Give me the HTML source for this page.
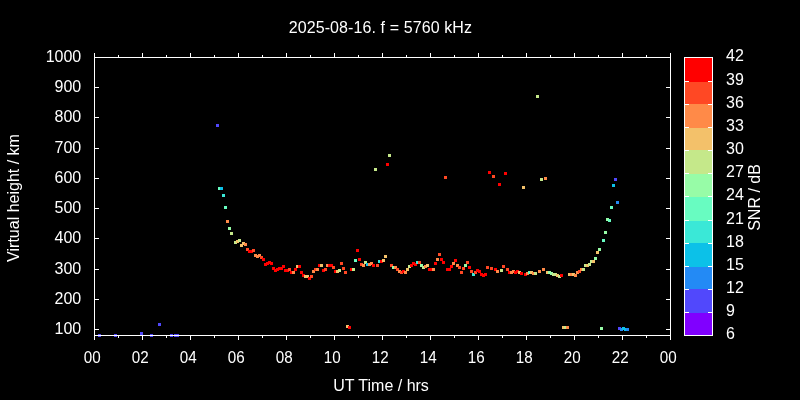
<!DOCTYPE html><html><head><meta charset="utf-8"><style>html,body{margin:0;padding:0;background:#000;width:800px;height:400px;overflow:hidden}svg{display:block;will-change:transform}text{font-family:"Liberation Sans",sans-serif;font-size:16px;fill:#fff}</style></head><body>
<svg width="800" height="400" viewBox="0 0 800 400">
<rect x="0" y="0" width="800" height="400" fill="#000"/>
<g shape-rendering="crispEdges">
<rect x="98" y="334" width="3" height="3" fill="#5148fc"/>
<rect x="114" y="334" width="3" height="3" fill="#5148fc"/>
<rect x="140" y="332" width="3" height="3" fill="#5148fc"/>
<rect x="150" y="334" width="3" height="3" fill="#5148fc"/>
<rect x="158" y="323" width="3" height="3" fill="#5148fc"/>
<rect x="170" y="334" width="3" height="3" fill="#5148fc"/>
<rect x="174" y="334" width="3" height="3" fill="#5148fc"/>
<rect x="176" y="334" width="3" height="3" fill="#5148fc"/>
<rect x="216" y="124" width="3" height="3" fill="#5148fc"/>
<rect x="218" y="187" width="3" height="3" fill="#68fcc1"/>
<rect x="220" y="187" width="3" height="3" fill="#0cc1e8"/>
<rect x="222" y="194" width="3" height="3" fill="#3ae8d7"/>
<rect x="224" y="206" width="3" height="3" fill="#68fcc1"/>
<rect x="226" y="220" width="3" height="3" fill="#ff8a48"/>
<rect x="228" y="227" width="3" height="3" fill="#97fca7"/>
<rect x="230" y="232" width="3" height="3" fill="#c5e88a"/>
<rect x="234" y="241" width="3" height="3" fill="#c5e88a"/>
<rect x="236" y="240" width="3" height="3" fill="#f3c16a"/>
<rect x="238" y="239" width="3" height="3" fill="#c5e88a"/>
<rect x="240" y="244" width="3" height="3" fill="#f3c16a"/>
<rect x="242" y="242" width="3" height="3" fill="#f3c16a"/>
<rect x="244" y="243" width="3" height="3" fill="#ff8a48"/>
<rect x="246" y="248" width="3" height="3" fill="#ff4824"/>
<rect x="248" y="250" width="3" height="3" fill="#ff0000"/>
<rect x="250" y="250" width="3" height="3" fill="#ff0000"/>
<rect x="252" y="249" width="3" height="3" fill="#ff4824"/>
<rect x="254" y="254" width="3" height="3" fill="#ff8a48"/>
<rect x="256" y="255" width="3" height="3" fill="#ff8a48"/>
<rect x="258" y="254" width="3" height="3" fill="#ff8a48"/>
<rect x="260" y="256" width="3" height="3" fill="#ff4824"/>
<rect x="262" y="258" width="3" height="3" fill="#ff0000"/>
<rect x="264" y="263" width="3" height="3" fill="#ff0000"/>
<rect x="266" y="262" width="3" height="3" fill="#ff0000"/>
<rect x="268" y="261" width="3" height="3" fill="#ff0000"/>
<rect x="270" y="262" width="3" height="3" fill="#ff0000"/>
<rect x="272" y="267" width="3" height="3" fill="#ff0000"/>
<rect x="274" y="269" width="3" height="3" fill="#ff0000"/>
<rect x="276" y="268" width="3" height="3" fill="#ff0000"/>
<rect x="278" y="267" width="3" height="3" fill="#ff0000"/>
<rect x="280" y="267" width="3" height="3" fill="#ff0000"/>
<rect x="282" y="265" width="3" height="3" fill="#ff0000"/>
<rect x="284" y="269" width="3" height="3" fill="#ff0000"/>
<rect x="286" y="269" width="3" height="3" fill="#ff0000"/>
<rect x="288" y="268" width="3" height="3" fill="#ff4824"/>
<rect x="290" y="271" width="3" height="3" fill="#ff0000"/>
<rect x="292" y="271" width="3" height="3" fill="#ff8a48"/>
<rect x="294" y="268" width="3" height="3" fill="#ff0000"/>
<rect x="296" y="265" width="3" height="3" fill="#f3c16a"/>
<rect x="298" y="265" width="3" height="3" fill="#ff0000"/>
<rect x="300" y="271" width="3" height="3" fill="#ff0000"/>
<rect x="302" y="274" width="3" height="3" fill="#ff0000"/>
<rect x="304" y="275" width="3" height="3" fill="#f3c16a"/>
<rect x="306" y="275" width="3" height="3" fill="#f3c16a"/>
<rect x="308" y="277" width="3" height="3" fill="#ff0000"/>
<rect x="310" y="275" width="3" height="3" fill="#ff4824"/>
<rect x="312" y="270" width="3" height="3" fill="#ff8a48"/>
<rect x="314" y="268" width="3" height="3" fill="#ff4824"/>
<rect x="316" y="268" width="3" height="3" fill="#ff8a48"/>
<rect x="318" y="264" width="3" height="3" fill="#ff0000"/>
<rect x="320" y="264" width="3" height="3" fill="#f3c16a"/>
<rect x="322" y="269" width="3" height="3" fill="#ff0000"/>
<rect x="324" y="268" width="3" height="3" fill="#ff4824"/>
<rect x="326" y="264" width="3" height="3" fill="#ff8a48"/>
<rect x="328" y="264" width="3" height="3" fill="#ff0000"/>
<rect x="330" y="264" width="3" height="3" fill="#ff0000"/>
<rect x="332" y="266" width="3" height="3" fill="#ff4824"/>
<rect x="334" y="270" width="3" height="3" fill="#ff0000"/>
<rect x="336" y="270" width="3" height="3" fill="#f3c16a"/>
<rect x="338" y="269" width="3" height="3" fill="#c5e88a"/>
<rect x="340" y="262" width="3" height="3" fill="#ff4824"/>
<rect x="342" y="267" width="3" height="3" fill="#ff4824"/>
<rect x="344" y="271" width="3" height="3" fill="#ff4824"/>
<rect x="346" y="325" width="3" height="3" fill="#f3c16a"/>
<rect x="348" y="326" width="3" height="3" fill="#ff0000"/>
<rect x="350" y="268" width="3" height="3" fill="#ff0000"/>
<rect x="352" y="268" width="3" height="3" fill="#c5e88a"/>
<rect x="354" y="259" width="3" height="3" fill="#68fcc1"/>
<rect x="356" y="249" width="3" height="3" fill="#ff0000"/>
<rect x="358" y="258" width="3" height="3" fill="#ff0000"/>
<rect x="360" y="263" width="3" height="3" fill="#ff4824"/>
<rect x="362" y="264" width="3" height="3" fill="#ff8a48"/>
<rect x="364" y="261" width="3" height="3" fill="#c5e88a"/>
<rect x="366" y="263" width="3" height="3" fill="#0cc1e8"/>
<rect x="368" y="263" width="3" height="3" fill="#ff8a48"/>
<rect x="370" y="262" width="3" height="3" fill="#ff8a48"/>
<rect x="372" y="264" width="3" height="3" fill="#ff0000"/>
<rect x="374" y="168" width="3" height="3" fill="#c5e88a"/>
<rect x="376" y="264" width="3" height="3" fill="#ff4824"/>
<rect x="378" y="260" width="3" height="3" fill="#3ae8d7"/>
<rect x="380" y="260" width="3" height="3" fill="#ff0000"/>
<rect x="382" y="259" width="3" height="3" fill="#f3c16a"/>
<rect x="384" y="255" width="3" height="3" fill="#f3c16a"/>
<rect x="386" y="163" width="3" height="3" fill="#ff0000"/>
<rect x="388" y="154" width="3" height="3" fill="#c5e88a"/>
<rect x="390" y="264" width="3" height="3" fill="#ff4824"/>
<rect x="392" y="266" width="3" height="3" fill="#97fca7"/>
<rect x="394" y="266" width="3" height="3" fill="#ff8a48"/>
<rect x="396" y="268" width="3" height="3" fill="#ff4824"/>
<rect x="398" y="270" width="3" height="3" fill="#ff8a48"/>
<rect x="400" y="271" width="3" height="3" fill="#ff4824"/>
<rect x="402" y="270" width="3" height="3" fill="#ff0000"/>
<rect x="404" y="271" width="3" height="3" fill="#ff8a48"/>
<rect x="406" y="268" width="3" height="3" fill="#f3c16a"/>
<rect x="408" y="265" width="3" height="3" fill="#c5e88a"/>
<rect x="410" y="264" width="3" height="3" fill="#ff0000"/>
<rect x="412" y="262" width="3" height="3" fill="#ff0000"/>
<rect x="414" y="263" width="3" height="3" fill="#ff0000"/>
<rect x="416" y="261" width="3" height="3" fill="#3ae8d7"/>
<rect x="418" y="261" width="3" height="3" fill="#ff4824"/>
<rect x="420" y="264" width="3" height="3" fill="#97fca7"/>
<rect x="422" y="266" width="3" height="3" fill="#c5e88a"/>
<rect x="424" y="265" width="3" height="3" fill="#ff8a48"/>
<rect x="426" y="264" width="3" height="3" fill="#f3c16a"/>
<rect x="428" y="268" width="3" height="3" fill="#ff0000"/>
<rect x="430" y="268" width="3" height="3" fill="#ff0000"/>
<rect x="432" y="268" width="3" height="3" fill="#ff8a48"/>
<rect x="434" y="262" width="3" height="3" fill="#ff0000"/>
<rect x="436" y="258" width="3" height="3" fill="#ff8a48"/>
<rect x="438" y="253" width="3" height="3" fill="#ff4824"/>
<rect x="440" y="258" width="3" height="3" fill="#ff0000"/>
<rect x="442" y="261" width="3" height="3" fill="#ff0000"/>
<rect x="444" y="176" width="3" height="3" fill="#ff4824"/>
<rect x="446" y="268" width="3" height="3" fill="#ff0000"/>
<rect x="448" y="268" width="3" height="3" fill="#ff0000"/>
<rect x="450" y="265" width="3" height="3" fill="#ff0000"/>
<rect x="452" y="262" width="3" height="3" fill="#ff8a48"/>
<rect x="454" y="259" width="3" height="3" fill="#ff0000"/>
<rect x="456" y="264" width="3" height="3" fill="#ff8a48"/>
<rect x="458" y="266" width="3" height="3" fill="#ff4824"/>
<rect x="460" y="271" width="3" height="3" fill="#ff4824"/>
<rect x="462" y="267" width="3" height="3" fill="#ff4824"/>
<rect x="464" y="264" width="3" height="3" fill="#97fca7"/>
<rect x="466" y="261" width="3" height="3" fill="#ff4824"/>
<rect x="468" y="266" width="3" height="3" fill="#ff0000"/>
<rect x="470" y="270" width="3" height="3" fill="#ff4824"/>
<rect x="472" y="273" width="3" height="3" fill="#3ae8d7"/>
<rect x="474" y="271" width="3" height="3" fill="#ff4824"/>
<rect x="476" y="269" width="3" height="3" fill="#ff0000"/>
<rect x="478" y="270" width="3" height="3" fill="#ff0000"/>
<rect x="480" y="273" width="3" height="3" fill="#ff0000"/>
<rect x="482" y="274" width="3" height="3" fill="#ff0000"/>
<rect x="484" y="273" width="3" height="3" fill="#ff0000"/>
<rect x="486" y="266" width="3" height="3" fill="#ff4824"/>
<rect x="488" y="171" width="3" height="3" fill="#ff0000"/>
<rect x="490" y="267" width="3" height="3" fill="#ff4824"/>
<rect x="492" y="175" width="3" height="3" fill="#ff4824"/>
<rect x="494" y="268" width="3" height="3" fill="#ff0000"/>
<rect x="496" y="270" width="3" height="3" fill="#ff8a48"/>
<rect x="498" y="183" width="3" height="3" fill="#ff0000"/>
<rect x="500" y="269" width="3" height="3" fill="#c5e88a"/>
<rect x="502" y="265" width="3" height="3" fill="#ff4824"/>
<rect x="504" y="172" width="3" height="3" fill="#ff0000"/>
<rect x="506" y="268" width="3" height="3" fill="#ff4824"/>
<rect x="508" y="271" width="3" height="3" fill="#ff0000"/>
<rect x="510" y="271" width="3" height="3" fill="#ff8a48"/>
<rect x="512" y="270" width="3" height="3" fill="#ff8a48"/>
<rect x="514" y="271" width="3" height="3" fill="#ff0000"/>
<rect x="516" y="270" width="3" height="3" fill="#ff0000"/>
<rect x="518" y="271" width="3" height="3" fill="#f3c16a"/>
<rect x="520" y="272" width="3" height="3" fill="#ff0000"/>
<rect x="522" y="186" width="3" height="3" fill="#f3c16a"/>
<rect x="524" y="273" width="3" height="3" fill="#ff0000"/>
<rect x="526" y="272" width="3" height="3" fill="#ff8a48"/>
<rect x="528" y="271" width="3" height="3" fill="#68fcc1"/>
<rect x="530" y="271" width="3" height="3" fill="#f3c16a"/>
<rect x="532" y="272" width="3" height="3" fill="#ff8a48"/>
<rect x="534" y="272" width="3" height="3" fill="#c5e88a"/>
<rect x="536" y="95" width="3" height="3" fill="#c5e88a"/>
<rect x="538" y="270" width="3" height="3" fill="#ff8a48"/>
<rect x="540" y="178" width="3" height="3" fill="#c5e88a"/>
<rect x="542" y="268" width="3" height="3" fill="#ff8a48"/>
<rect x="544" y="177" width="3" height="3" fill="#ff8a48"/>
<rect x="546" y="271" width="3" height="3" fill="#f3c16a"/>
<rect x="548" y="271" width="3" height="3" fill="#97fca7"/>
<rect x="550" y="272" width="3" height="3" fill="#97fca7"/>
<rect x="552" y="273" width="3" height="3" fill="#c5e88a"/>
<rect x="554" y="273" width="3" height="3" fill="#c5e88a"/>
<rect x="556" y="274" width="3" height="3" fill="#f3c16a"/>
<rect x="558" y="275" width="3" height="3" fill="#c5e88a"/>
<rect x="560" y="274" width="3" height="3" fill="#ff0000"/>
<rect x="562" y="326" width="3" height="3" fill="#f3c16a"/>
<rect x="564" y="326" width="3" height="3" fill="#c5e88a"/>
<rect x="566" y="326" width="3" height="3" fill="#ff8a48"/>
<rect x="568" y="273" width="3" height="3" fill="#f3c16a"/>
<rect x="570" y="273" width="3" height="3" fill="#ff8a48"/>
<rect x="572" y="273" width="3" height="3" fill="#f3c16a"/>
<rect x="574" y="274" width="3" height="3" fill="#ff8a48"/>
<rect x="576" y="271" width="3" height="3" fill="#ff8a48"/>
<rect x="578" y="270" width="3" height="3" fill="#ff4824"/>
<rect x="580" y="268" width="3" height="3" fill="#ff8a48"/>
<rect x="582" y="268" width="3" height="3" fill="#c5e88a"/>
<rect x="584" y="264" width="3" height="3" fill="#c5e88a"/>
<rect x="586" y="264" width="3" height="3" fill="#f3c16a"/>
<rect x="588" y="263" width="3" height="3" fill="#c5e88a"/>
<rect x="590" y="260" width="3" height="3" fill="#c5e88a"/>
<rect x="592" y="260" width="3" height="3" fill="#f3c16a"/>
<rect x="594" y="257" width="3" height="3" fill="#97fca7"/>
<rect x="596" y="251" width="3" height="3" fill="#f3c16a"/>
<rect x="598" y="248" width="3" height="3" fill="#97fca7"/>
<rect x="600" y="327" width="3" height="3" fill="#97fca7"/>
<rect x="602" y="239" width="3" height="3" fill="#68fcc1"/>
<rect x="604" y="231" width="3" height="3" fill="#97fca7"/>
<rect x="606" y="218" width="3" height="3" fill="#97fca7"/>
<rect x="608" y="219" width="3" height="3" fill="#68fcc1"/>
<rect x="610" y="206" width="3" height="3" fill="#68fcc1"/>
<rect x="612" y="184" width="3" height="3" fill="#0cc1e8"/>
<rect x="614" y="178" width="3" height="3" fill="#5148fc"/>
<rect x="616" y="201" width="3" height="3" fill="#238af5"/>
<rect x="618" y="327" width="3" height="3" fill="#5148fc"/>
<rect x="620" y="328" width="3" height="3" fill="#238af5"/>
<rect x="622" y="327" width="3" height="3" fill="#0cc1e8"/>
<rect x="624" y="328" width="3" height="3" fill="#0cc1e8"/>
<rect x="626" y="328" width="3" height="3" fill="#238af5"/>
<rect x="684" y="313" width="28" height="22" fill="#8000ff"/>
<rect x="684" y="289" width="28" height="24" fill="#5148fc"/>
<rect x="684" y="267" width="28" height="22" fill="#238af5"/>
<rect x="684" y="243" width="28" height="24" fill="#0cc1e8"/>
<rect x="684" y="221" width="28" height="22" fill="#3ae8d7"/>
<rect x="684" y="197" width="28" height="24" fill="#68fcc1"/>
<rect x="684" y="174" width="28" height="23" fill="#97fca7"/>
<rect x="684" y="150" width="28" height="24" fill="#c5e88a"/>
<rect x="684" y="128" width="28" height="22" fill="#f3c16a"/>
<rect x="684" y="104" width="28" height="24" fill="#ff8a48"/>
<rect x="684" y="82" width="28" height="22" fill="#ff4824"/>
<rect x="684" y="57" width="28" height="25" fill="#ff0000"/>
<rect x="94" y="57" width="577" height="1" fill="#fff"/>
<rect x="94" y="335" width="577" height="1" fill="#fff"/>
<rect x="94" y="57" width="1" height="279" fill="#fff"/>
<rect x="670" y="57" width="1" height="279" fill="#fff"/>
<rect x="94" y="335" width="1" height="5" fill="#fff"/>
<rect x="94" y="53" width="1" height="5" fill="#fff"/>
<rect x="118" y="335" width="1" height="3" fill="#fff"/>
<rect x="118" y="55" width="1" height="3" fill="#fff"/>
<rect x="142" y="335" width="1" height="5" fill="#fff"/>
<rect x="142" y="53" width="1" height="5" fill="#fff"/>
<rect x="166" y="335" width="1" height="3" fill="#fff"/>
<rect x="166" y="55" width="1" height="3" fill="#fff"/>
<rect x="190" y="335" width="1" height="5" fill="#fff"/>
<rect x="190" y="53" width="1" height="5" fill="#fff"/>
<rect x="214" y="335" width="1" height="3" fill="#fff"/>
<rect x="214" y="55" width="1" height="3" fill="#fff"/>
<rect x="238" y="335" width="1" height="5" fill="#fff"/>
<rect x="238" y="53" width="1" height="5" fill="#fff"/>
<rect x="262" y="335" width="1" height="3" fill="#fff"/>
<rect x="262" y="55" width="1" height="3" fill="#fff"/>
<rect x="286" y="335" width="1" height="5" fill="#fff"/>
<rect x="286" y="53" width="1" height="5" fill="#fff"/>
<rect x="310" y="335" width="1" height="3" fill="#fff"/>
<rect x="310" y="55" width="1" height="3" fill="#fff"/>
<rect x="334" y="335" width="1" height="5" fill="#fff"/>
<rect x="334" y="53" width="1" height="5" fill="#fff"/>
<rect x="358" y="335" width="1" height="3" fill="#fff"/>
<rect x="358" y="55" width="1" height="3" fill="#fff"/>
<rect x="382" y="335" width="1" height="5" fill="#fff"/>
<rect x="382" y="53" width="1" height="5" fill="#fff"/>
<rect x="406" y="335" width="1" height="3" fill="#fff"/>
<rect x="406" y="55" width="1" height="3" fill="#fff"/>
<rect x="430" y="335" width="1" height="5" fill="#fff"/>
<rect x="430" y="53" width="1" height="5" fill="#fff"/>
<rect x="454" y="335" width="1" height="3" fill="#fff"/>
<rect x="454" y="55" width="1" height="3" fill="#fff"/>
<rect x="478" y="335" width="1" height="5" fill="#fff"/>
<rect x="478" y="53" width="1" height="5" fill="#fff"/>
<rect x="502" y="335" width="1" height="3" fill="#fff"/>
<rect x="502" y="55" width="1" height="3" fill="#fff"/>
<rect x="526" y="335" width="1" height="5" fill="#fff"/>
<rect x="526" y="53" width="1" height="5" fill="#fff"/>
<rect x="550" y="335" width="1" height="3" fill="#fff"/>
<rect x="550" y="55" width="1" height="3" fill="#fff"/>
<rect x="574" y="335" width="1" height="5" fill="#fff"/>
<rect x="574" y="53" width="1" height="5" fill="#fff"/>
<rect x="598" y="335" width="1" height="3" fill="#fff"/>
<rect x="598" y="55" width="1" height="3" fill="#fff"/>
<rect x="622" y="335" width="1" height="5" fill="#fff"/>
<rect x="622" y="53" width="1" height="5" fill="#fff"/>
<rect x="646" y="335" width="1" height="3" fill="#fff"/>
<rect x="646" y="55" width="1" height="3" fill="#fff"/>
<rect x="670" y="335" width="1" height="5" fill="#fff"/>
<rect x="670" y="53" width="1" height="5" fill="#fff"/>
<rect x="94" y="329" width="5" height="1" fill="#fff"/>
<rect x="666" y="329" width="5" height="1" fill="#fff"/>
<rect x="94" y="299" width="5" height="1" fill="#fff"/>
<rect x="666" y="299" width="5" height="1" fill="#fff"/>
<rect x="94" y="269" width="5" height="1" fill="#fff"/>
<rect x="666" y="269" width="5" height="1" fill="#fff"/>
<rect x="94" y="238" width="5" height="1" fill="#fff"/>
<rect x="666" y="238" width="5" height="1" fill="#fff"/>
<rect x="94" y="208" width="5" height="1" fill="#fff"/>
<rect x="666" y="208" width="5" height="1" fill="#fff"/>
<rect x="94" y="178" width="5" height="1" fill="#fff"/>
<rect x="666" y="178" width="5" height="1" fill="#fff"/>
<rect x="94" y="148" width="5" height="1" fill="#fff"/>
<rect x="666" y="148" width="5" height="1" fill="#fff"/>
<rect x="94" y="117" width="5" height="1" fill="#fff"/>
<rect x="666" y="117" width="5" height="1" fill="#fff"/>
<rect x="94" y="87" width="5" height="1" fill="#fff"/>
<rect x="666" y="87" width="5" height="1" fill="#fff"/>
<rect x="94" y="57" width="5" height="1" fill="#fff"/>
<rect x="666" y="57" width="5" height="1" fill="#fff"/>
<rect x="684" y="57" width="5" height="1" fill="#fff"/>
<rect x="708" y="57" width="5" height="1" fill="#fff"/>
<rect x="684" y="81" width="5" height="1" fill="#fff"/>
<rect x="708" y="81" width="5" height="1" fill="#fff"/>
<rect x="684" y="104" width="5" height="1" fill="#fff"/>
<rect x="708" y="104" width="5" height="1" fill="#fff"/>
<rect x="684" y="127" width="5" height="1" fill="#fff"/>
<rect x="708" y="127" width="5" height="1" fill="#fff"/>
<rect x="684" y="150" width="5" height="1" fill="#fff"/>
<rect x="708" y="150" width="5" height="1" fill="#fff"/>
<rect x="684" y="173" width="5" height="1" fill="#fff"/>
<rect x="708" y="173" width="5" height="1" fill="#fff"/>
<rect x="684" y="196" width="5" height="1" fill="#fff"/>
<rect x="708" y="196" width="5" height="1" fill="#fff"/>
<rect x="684" y="220" width="5" height="1" fill="#fff"/>
<rect x="708" y="220" width="5" height="1" fill="#fff"/>
<rect x="684" y="243" width="5" height="1" fill="#fff"/>
<rect x="708" y="243" width="5" height="1" fill="#fff"/>
<rect x="684" y="266" width="5" height="1" fill="#fff"/>
<rect x="708" y="266" width="5" height="1" fill="#fff"/>
<rect x="684" y="289" width="5" height="1" fill="#fff"/>
<rect x="708" y="289" width="5" height="1" fill="#fff"/>
<rect x="684" y="312" width="5" height="1" fill="#fff"/>
<rect x="708" y="312" width="5" height="1" fill="#fff"/>
<rect x="684" y="335" width="5" height="1" fill="#fff"/>
<rect x="708" y="335" width="5" height="1" fill="#fff"/>
<rect x="684" y="57" width="29" height="1" fill="#fff"/>
<rect x="684" y="335" width="29" height="1" fill="#fff"/>
<rect x="684" y="57" width="1" height="279" fill="#fff"/>
<rect x="712" y="57" width="1" height="279" fill="#fff"/>
</g>
<text x="81.25" y="334" text-anchor="end">100</text>
<text x="81.25" y="304" text-anchor="end">200</text>
<text x="81.25" y="274" text-anchor="end">300</text>
<text x="81.25" y="243" text-anchor="end">400</text>
<text x="81.25" y="213" text-anchor="end">500</text>
<text x="81.25" y="183" text-anchor="end">600</text>
<text x="81.25" y="153" text-anchor="end">700</text>
<text x="81.25" y="122" text-anchor="end">800</text>
<text x="81.25" y="92" text-anchor="end">900</text>
<text x="81.25" y="62" text-anchor="end">1000</text>
<text x="92.25" y="363" text-anchor="middle" textLength="16.9" lengthAdjust="spacingAndGlyphs">00</text>
<text x="140.25" y="363" text-anchor="middle" textLength="16.9" lengthAdjust="spacingAndGlyphs">02</text>
<text x="188.25" y="363" text-anchor="middle" textLength="16.9" lengthAdjust="spacingAndGlyphs">04</text>
<text x="236.25" y="363" text-anchor="middle" textLength="16.9" lengthAdjust="spacingAndGlyphs">06</text>
<text x="284.25" y="363" text-anchor="middle" textLength="16.9" lengthAdjust="spacingAndGlyphs">08</text>
<text x="332.25" y="363" text-anchor="middle" textLength="16.9" lengthAdjust="spacingAndGlyphs">10</text>
<text x="380.25" y="363" text-anchor="middle" textLength="16.9" lengthAdjust="spacingAndGlyphs">12</text>
<text x="428.25" y="363" text-anchor="middle" textLength="16.9" lengthAdjust="spacingAndGlyphs">14</text>
<text x="476.25" y="363" text-anchor="middle" textLength="16.9" lengthAdjust="spacingAndGlyphs">16</text>
<text x="524.25" y="363" text-anchor="middle" textLength="16.9" lengthAdjust="spacingAndGlyphs">18</text>
<text x="572.25" y="363" text-anchor="middle" textLength="16.9" lengthAdjust="spacingAndGlyphs">20</text>
<text x="620.25" y="363" text-anchor="middle" textLength="16.9" lengthAdjust="spacingAndGlyphs">22</text>
<text x="668.25" y="363" text-anchor="middle" textLength="16.9" lengthAdjust="spacingAndGlyphs">00</text>
<text x="726" y="61">42</text>
<text x="726" y="85">39</text>
<text x="726" y="108">36</text>
<text x="726" y="131">33</text>
<text x="726" y="154">30</text>
<text x="726" y="177">27</text>
<text x="726" y="200">24</text>
<text x="726" y="224">21</text>
<text x="726" y="247">18</text>
<text x="726" y="270">15</text>
<text x="726" y="293">12</text>
<text x="726" y="316">9</text>
<text x="726" y="339">6</text>
<text x="380.3" y="33" text-anchor="middle" textLength="183.3" lengthAdjust="spacing">2025-08-16. f = 5760 kHz</text>
<text x="381" y="391" text-anchor="middle">UT Time / hrs</text>
<text transform="translate(18.75,198) rotate(-90)" text-anchor="middle">Virtual height / km</text>
<text transform="translate(760,197.5) rotate(-90)" text-anchor="middle">SNR / dB</text>
</svg></body></html>
